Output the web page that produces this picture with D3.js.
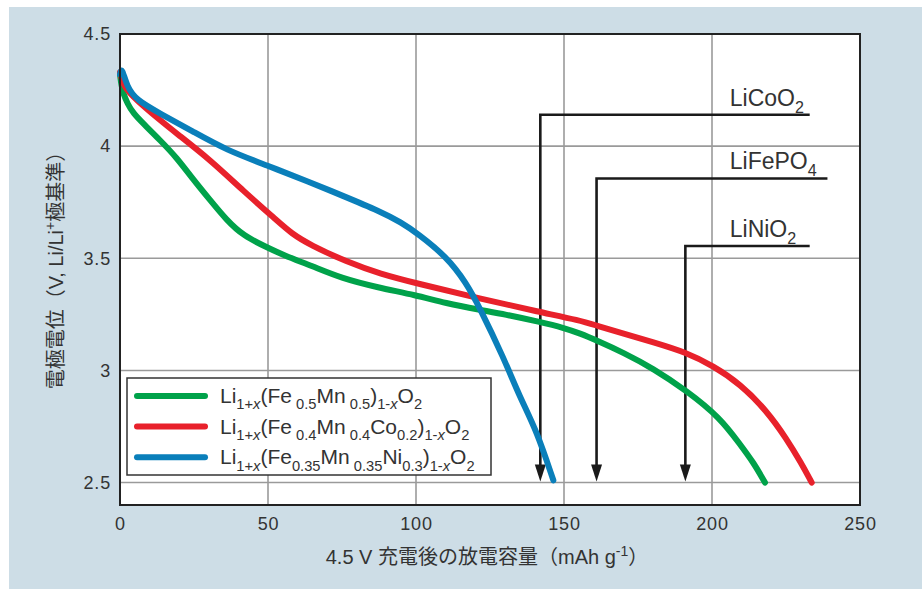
<!DOCTYPE html>
<html>
<head>
<meta charset="utf-8">
<script src="https://cdn.jsdelivr.net/npm/d3@7"></script>
<style>
  body { margin: 0; background: #fff; }
  text { font-family: "Liberation Sans", Arial, "Noto Sans CJK JP", sans-serif; fill: #333; }
  .jp { font-family: "Liberation Sans", "Noto Sans CJK JP", sans-serif; }
</style>
</head>
<body>
<div id="chart"></div>
<script>
// discharge capacity (mAh/g) vs electrode potential (V)
var greenCap = [0, 0.5, 1.1, 2.5, 4.5, 7.9, 13.5, 19.1, 24.8, 30.4, 36, 41.7, 49.5, 55, 65, 75, 87, 100, 110, 121.6, 130, 141.9, 150, 155.4, 161, 170, 180, 191.4, 202.7, 209.5, 214, 217.9];
var greenV   = [4.32, 4.27, 4.235, 4.19, 4.146, 4.10, 4.027, 3.95, 3.85, 3.76, 3.67, 3.60, 3.55, 3.515, 3.465, 3.41, 3.37, 3.335, 3.30, 3.27, 3.25, 3.216, 3.19, 3.165, 3.134, 3.08, 3.01, 2.91, 2.79, 2.67, 2.59, 2.50];

var redCap = [0, 1.1, 5.6, 13.5, 19.1, 30.4, 41.7, 52.9, 58, 64.2, 76.6, 88, 100.6, 121.6, 141.9, 155.4, 161, 170, 180, 191.4, 200.4, 209.5, 218.5, 225.2, 230, 233.7];
var redV   = [4.33, 4.265, 4.205, 4.116, 4.057, 3.94, 3.80, 3.67, 3.61, 3.56, 3.484, 3.43, 3.387, 3.32, 3.26, 3.223, 3.20, 3.165, 3.126, 3.08, 3.02, 2.94, 2.82, 2.695, 2.59, 2.50];

var blueCap = [0, 0.6, 2.3, 5.6, 13.5, 24.8, 36, 49.5, 64, 75, 87.8, 95, 100.6, 110.4, 117, 121.4, 129.5, 135.1, 140.8, 146.4];
var blueV   = [4.32, 4.354, 4.265, 4.205, 4.146, 4.064, 3.982, 3.915, 3.84, 3.78, 3.71, 3.66, 3.61, 3.506, 3.39, 3.283, 3.06, 2.88, 2.73, 2.51];

var seriesNames = [
    "Li_{1+x}(Fe_{ 0.5}Mn_{ 0.5})_{1-x}O_{2}",
    "Li_{1+x}(Fe_{ 0.4}Mn_{ 0.4}Co_{0.2})_{1-x}O_{2}",
    "Li_{1+x}(Fe_{0.35}Mn_{ 0.35}Ni_{0.3})_{1-x}O_{2}"
];
var seriesColors = ["#00a24a", "#e8212b", "#0a7fba"];

// reference cathodes and their capacities
var refNames = ["LiCoO_{2}", "LiFePO_{4}", "LiNiO_{2}"];
var refCap = [142, 161, 191];

var xTicks = [0, 50, 100, 150, 200, 250];
var yTicks = [2.5, 3, 3.5, 4, 4.5];

var W = 922, H = 589;
var margin = {left: 120, top: 34, right: 62, bottom: 84};
var width = W - margin.left - margin.right;
var height = H - margin.top - margin.bottom;

var svg = d3.select("#chart").append("svg")
    .attr("width", W)
    .attr("height", H);

svg.append("rect").attr("width", W).attr("height", H).attr("fill", "#fff");
svg.append("rect").attr("x", 9).attr("y", 7).attr("width", W - 9).attr("height", H - 7).attr("fill", "#cddde6");

var x = d3.scaleLinear().domain([0, 250]).range([0, width]);
var y = d3.scaleLinear().domain([2.4, 4.5]).range([height, 0]);

var g = svg.append("g").attr("transform", "translate(" + margin.left + "," + margin.top + ")");

g.append("rect").attr("width", width).attr("height", height).attr("fill", "#fff");

// grid
g.append("g").selectAll("line").data(xTicks.slice(1, -1)).enter().append("line")
    .attr("x1", function (d) { return x(d); }).attr("x2", function (d) { return x(d); })
    .attr("y1", 0).attr("y2", height)
    .attr("stroke", "#9a9a9a").attr("stroke-width", 1.6);
g.append("g").selectAll("line").data(yTicks.slice(0, -1)).enter().append("line")
    .attr("x1", 0).attr("x2", width)
    .attr("y1", function (d) { return y(d); }).attr("y2", function (d) { return y(d); })
    .attr("stroke", "#9a9a9a").attr("stroke-width", 1.6);

// axes (labels only)
var xAxis = d3.axisBottom(x).tickValues(xTicks).tickSize(0).tickPadding(12);
var yAxis = d3.axisLeft(y).tickValues(yTicks).tickSize(0).tickPadding(9)
    .tickFormat(function (d) { return String(d); });

var gx = g.append("g").attr("transform", "translate(0," + height + ")").call(xAxis);
var gy = g.append("g").call(yAxis);
[gx, gy].forEach(function (a) {
    a.select(".domain").remove();
    a.selectAll("text").attr("font-size", 18).attr("fill", "#2a2a2a")
        .attr("letter-spacing", 0.8)
        .attr("font-family", "'DejaVu Sans', Verdana, sans-serif");
});

// rich text with _{sub} and ^{sup}, x inside sub/sup in italics
function rich(sel, str, size) {
    var parts = str.split(/(_\{[^}]*\}|\^\{[^}]*\})/).filter(function (s) { return s.length; });
    var shift = 0;
    parts.forEach(function (p) {
        var target = 0, txt = p, small = false;
        if (p[0] === "_") { target = size * 0.3; txt = p.slice(2, -1); small = true; }
        if (p[0] === "^") { target = -size * 0.4; txt = p.slice(2, -1); small = true; }
        var pieces = small ? txt.split(/(x)/).filter(function (s) { return s.length; }) : [txt];
        pieces.forEach(function (pc, i) {
            var ts = sel.append("tspan").text(pc);
            if (i === 0 && target !== shift) { ts.attr("dy", target - shift); shift = target; }
            if (small) ts.attr("font-size", size * 0.7);
            if (pc === "x" && small) ts.attr("font-style", "italic");
        });
    });
}

// reference capacity arrows
var refLevel = [4.14, 3.856, 3.555];
var refEnd = [233, 239, 233];
refCap.forEach(function (c, i) {
    var ax = x(c), ay = y(refLevel[i]), tip = y(2.505);
    g.append("path")
        .attr("d", "M" + x(refEnd[i]) + "," + ay + "H" + ax + "V" + (tip - 14))
        .attr("fill", "none").attr("stroke", "#1a1a1a").attr("stroke-width", 2.6);
    g.append("path")
        .attr("d", "M" + (ax - 5.5) + "," + (tip - 17) + "L" + (ax + 5.5) + "," + (tip - 17) + "L" + ax + "," + tip + "Z")
        .attr("fill", "#1a1a1a");
    var t = g.append("text").attr("x", x(206)).attr("y", ay - 9)
        .attr("font-size", 23).attr("fill", "#1a1a1a");
    rich(t, refNames[i], 23);
});

// curves
var line = d3.line()
    .x(function (d) { return x(d[0]); })
    .y(function (d) { return y(d[1]); })
    .curve(d3.curveBasis);

var series = [
    d3.zip(greenCap, greenV),
    d3.zip(redCap, redV),
    d3.zip(blueCap, blueV)
];
series.forEach(function (s, i) {
    g.append("path").datum(s)
        .attr("d", line)
        .attr("fill", "none")
        .attr("stroke", seriesColors[i])
        .attr("stroke-width", 6)
        .attr("stroke-linecap", "round")
        .attr("stroke-linejoin", "round");
});

// frame
g.append("rect").attr("width", width).attr("height", height)
    .attr("fill", "none").attr("stroke", "#222").attr("stroke-width", 2);

// legend
var lg = svg.append("g").attr("transform", "translate(127,378)");
lg.append("rect").attr("width", 364).attr("height", 97)
    .attr("fill", "#fff").attr("stroke", "#333").attr("stroke-width", 1.5);
seriesNames.forEach(function (n, i) {
    var ly = 18 + i * 30.6;
    lg.append("line").attr("x1", 10).attr("x2", 78).attr("y1", ly).attr("y2", ly)
        .attr("stroke", seriesColors[i]).attr("stroke-width", 6).attr("stroke-linecap", "round");
    var t = lg.append("text").attr("x", 93).attr("y", ly + 7).attr("font-size", 21).attr("fill", "#222");
    rich(t, n, 21);
});

// axis titles
var xt = svg.append("text").attr("class", "jp")
    .attr("x", margin.left + width / 2 - 3).attr("y", 564)
    .attr("text-anchor", "middle").attr("font-size", 20);
rich(xt, "4.5 V 充電後の放電容量（mAh g^{-1}）", 20);

var yt = svg.append("text").attr("class", "jp")
    .attr("transform", "translate(63," + (margin.top + height / 2 - 4) + ") rotate(-90)")
    .attr("text-anchor", "middle").attr("font-size", 20);
rich(yt, "電極電位（V, Li/Li^{+}極基準）", 20);
</script>
</body>
</html>
